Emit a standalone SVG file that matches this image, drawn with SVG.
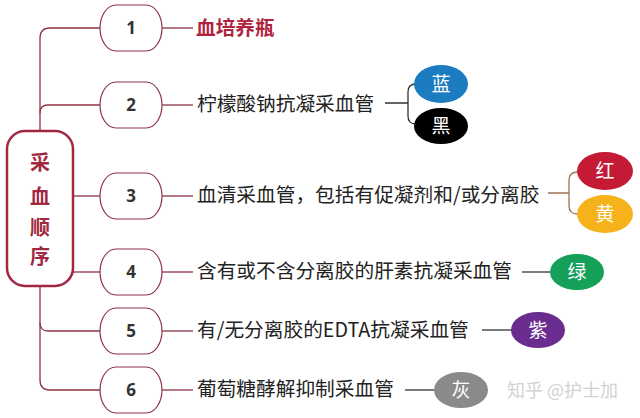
<svg xmlns="http://www.w3.org/2000/svg" width="640" height="418" viewBox="0 0 640 418">
<style>
.bg{fill:#ffffff}
.tree{fill:none;stroke:#8e3346;stroke-width:1.3}
.node{fill:#ffffff;stroke:#8e3346;stroke-width:1.2}
.num{font-family:"Open Sans","Liberation Sans",sans-serif;font-weight:bold;font-size:17px;fill:#333333;text-anchor:middle}
.lbl{font-family:"Noto Sans CJK SC","Noto Sans",sans-serif;font-size:19.7px;fill:#222222}
.lbl1{font-family:"Noto Sans CJK SC",sans-serif;font-size:19.7px;fill:#b0233c;font-weight:bold}
.main{font-family:"Noto Sans CJK SC",sans-serif;font-size:20px;fill:#a02840;font-weight:bold;text-anchor:middle}
.ctext{font-family:"Noto Sans CJK SC",sans-serif;font-size:19px;fill:#ffffff;text-anchor:middle}
.link{fill:none;stroke:#333333;stroke-width:1.3}
.link2{fill:none;stroke:#9a7358;stroke-width:1.3}
.wm{font-family:"Noto Sans CJK SC",sans-serif;font-size:18px;fill:#d2d2d2}
</style>
<rect class="bg" x="0" y="0" width="640" height="418"/>
<g id="connectors">
<path class="tree" d="M40 131 V38 Q40 28 50 28 H100"/>
<path class="tree" d="M40 113 Q40 105 48 105 H100"/>
<path class="tree" d="M73 196 H100"/>
<path class="tree" d="M73 272 H100"/>
<path class="tree" d="M40 286 V380 Q40 390 50 390 H100"/>
<path class="tree" d="M40 323 Q40 331 48 331 H100"/>
<path class="tree" d="M162 28 H193"/>
<path class="tree" d="M162 105 H193"/>
<path class="tree" d="M162 196 H193"/>
<path class="tree" d="M162 272 H193"/>
<path class="tree" d="M162 331 H193"/>
<path class="tree" d="M162 390 H193"/>
<path class="link" d="M385 103 H408 M416 84 Q408 84 408 92 V116 Q408 124 416 124"/>
<path class="link2" d="M548 193 H569 M578 172 Q569 172 569 180 V206 Q569 214 578 214"/>
<path class="link" d="M522 272 H550"/>
<path class="link" d="M482 330 H512"/>
<path class="link" d="M405 390 H434"/>
</g>
<g id="main">
<rect x="7" y="131" width="66" height="155" rx="18" ry="18" fill="#ffffff" stroke="#a02840" stroke-width="2.5"/>
<text class="main" x="40" y="170">采</text>
<text class="main" x="40" y="204">血</text>
<text class="main" x="40" y="235">顺</text>
<text class="main" x="40" y="264">序</text>
</g>
<g id="n1"><rect class="node" x="100" y="5" width="62" height="46" rx="16" ry="23"/><text class="num" x="131" y="34">1</text><text class="lbl1" x="196" y="34.5">血培养瓶</text></g>
<g id="n2"><rect class="node" x="100" y="82" width="62" height="46" rx="16" ry="23"/><text class="num" x="131" y="111">2</text><text class="lbl" x="197" y="111">柠檬酸钠抗凝采血管</text></g>
<g id="n3"><rect class="node" x="100" y="173" width="62" height="46" rx="16" ry="23"/><text class="num" x="131" y="202">3</text><text class="lbl" x="197" y="202">血清采血管，包括有促凝剂和/或分离胶</text></g>
<g id="n4"><rect class="node" x="100" y="249" width="62" height="46" rx="16" ry="23"/><text class="num" x="131" y="278">4</text><text class="lbl" x="197" y="278">含有或不含分离胶的肝素抗凝采血管</text></g>
<g id="n5"><rect class="node" x="100" y="308" width="62" height="46" rx="16" ry="23"/><text class="num" x="131" y="337">5</text><text class="lbl" x="197" y="337">有/无分离胶的EDTA抗凝采血管</text></g>
<g id="n6"><rect class="node" x="100" y="367" width="62" height="46" rx="16" ry="23"/><text class="num" x="131" y="396">6</text><text class="lbl" x="197" y="396">葡萄糖酵解抑制采血管</text></g>
<g id="c-blue"><ellipse cx="441" cy="84" rx="27" ry="19" fill="#1b7cbf"/><text class="ctext" x="441" y="91">蓝</text></g>
<g id="c-black"><ellipse cx="441" cy="126" rx="27" ry="18" fill="#000000"/><text class="ctext" x="441" y="133">黑</text></g>
<g id="c-red"><ellipse cx="605" cy="171" rx="28" ry="19" fill="#c41a36"/><text class="ctext" x="605" y="178">红</text></g>
<g id="c-yellow"><ellipse cx="605" cy="214" rx="28" ry="19" fill="#f5b21a"/><text class="ctext" x="605" y="221">黄</text></g>
<g id="c-green"><ellipse cx="577" cy="272" rx="27" ry="18" fill="#14a058"/><text class="ctext" x="577" y="279">绿</text></g>
<g id="c-purple"><ellipse cx="538" cy="330" rx="27" ry="18" fill="#6a2c8e"/><text class="ctext" x="538" y="337">紫</text></g>
<g id="c-gray"><ellipse cx="461" cy="390" rx="27" ry="18" fill="#8a8a8a"/><text class="ctext" x="461" y="397">灰</text></g>
<text class="wm" x="507" y="397">知乎 @护士加</text>
</svg>
